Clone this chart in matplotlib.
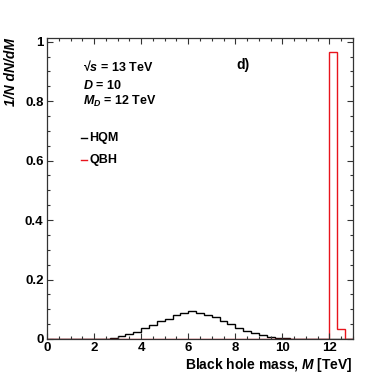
# Black hole mass distributions, HQM vs QBH (normalised histograms)
import numpy as np
import matplotlib
matplotlib.use('Agg')
import matplotlib.pyplot as plt
from matplotlib.ticker import MultipleLocator

plt.rcParams['font.family'] = ['Liberation Sans', 'DejaVu Sans']
plt.rcParams['font.weight'] = 'bold'
plt.rcParams['mathtext.fontset'] = 'custom'
plt.rcParams['mathtext.rm'] = 'Liberation Sans:bold'
plt.rcParams['mathtext.it'] = 'Liberation Sans:bold:italic'
plt.rcParams['mathtext.bf'] = 'Liberation Sans:bold'

# 39 bins of 1/3 TeV from 0 to 13 TeV
bin_edges = np.linspace(0, 13, 40)

# HQM: bins 6..32 are non-zero
hqm_nonzero = [0.0005, 0.0015, 0.004, 0.010, 0.017, 0.025, 0.036, 0.048, 0.061,
               0.068, 0.080, 0.089, 0.094, 0.088, 0.081, 0.073, 0.061, 0.050,
               0.037, 0.028, 0.020, 0.014, 0.008, 0.005, 0.003, 0.0015, 0.0008]
hqm = [0.0] * 6 + hqm_nonzero + [0.0] * 6

# QBH: everything sits just above M_D
qbh = [0.0] * 36 + [0.966, 0.034, 0.0]

fig = plt.figure(figsize=(3.92, 3.77), dpi=100)
ax = fig.add_axes([0.1199, 0.1008, 0.7806, 0.7992])

ax.stairs(hqm, bin_edges, color='black', linewidth=1.0)
ax.stairs(qbh, bin_edges, color='#e8141c', linewidth=1.0)

ax.set_xlim(0, 13)
ax.set_ylim(0, 1.0135)

ax.xaxis.set_major_locator(MultipleLocator(2))
ax.xaxis.set_minor_locator(MultipleLocator(0.5))
ax.yaxis.set_minor_locator(MultipleLocator(0.05))
ax.set_yticks([0, 0.2, 0.4, 0.6, 0.8, 1.0])
ax.set_yticklabels(['0', '0.2', '0.4', '0.6', '0.8', '1'])

ax.tick_params(which='both', direction='in', top=True, right=True,
               labelsize=9.5, pad=2.5, color='#333333')
ax.tick_params(which='major', length=4.3, width=0.8)
ax.tick_params(which='minor', length=2.3, width=0.8)
for lab in ax.get_xticklabels() + ax.get_yticklabels():
    lab.set_fontweight('bold')
for s in ax.spines.values():
    s.set_color('#333333')
    s.set_linewidth(0.9)

ax.set_xlabel('Black hole mass, $M$ [TeV]', fontsize=10, fontweight='bold',
              loc='right', labelpad=1)
ax.set_ylabel('1/N dN/dM', fontsize=10, fontweight='bold', style='italic',
              loc='top', labelpad=5)

ax.text(1.53, 0.915, '\u221a$s$ = 13 TeV', fontsize=9, fontweight='bold', va='center')
ax.text(1.53, 0.853, r'$D$ = 10', fontsize=9, fontweight='bold', va='center')
ax.text(1.53, 0.80, r'$M_{D}$ = 12 TeV', fontsize=9, fontweight='bold', va='center')
ax.text(8.05, 0.92, 'd)', fontsize=10, fontweight='bold', va='center')

# legend drawn ROOT-style: short line then label
leg_x = [1.45, 1.7]
ax.plot(leg_x, [0.677, 0.677], color='black', lw=1.0)
ax.text(1.8, 0.677, 'HQM', fontsize=9, fontweight='bold', va='center')
ax.plot(leg_x, [0.601, 0.601], color='#e8141c', lw=1.0)
ax.text(1.8, 0.601, 'QBH', fontsize=9, fontweight='bold', va='center')

fig.savefig('out.png', dpi=100)
